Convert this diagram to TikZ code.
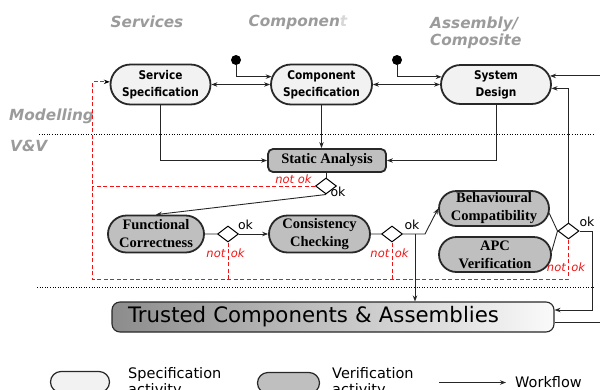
\documentclass[tikz,border=0pt]{standalone}
\usepackage{fontspec}
\setmainfont{DejaVu Sans}
\newfontfamily\specfont[FakeStretch=0.88]{DejaVu Sans}
\newfontfamily\verfont{Liberation Serif}
\usetikzlibrary{shapes.misc,shapes.geometric,arrows.meta,calc}
\definecolor{hdrgray}{RGB}{155,155,155}
\definecolor{hdrlight}{RGB}{215,215,215}
\definecolor{specfill}{RGB}{242,242,242}
\definecolor{verfill}{RGB}{191,191,191}
\definecolor{edge}{RGB}{40,40,40}
\definecolor{nokred}{RGB}{240,20,20}
\definecolor{trL}{RGB}{140,140,140}
\definecolor{trR}{RGB}{250,250,250}
\begin{document}
\begin{tikzpicture}[x=1pt,y=-1pt,
 specbox/.style={rounded rectangle, draw=edge, line width=1.8pt, fill=specfill, inner sep=0pt, align=center, font=\specfont\bfseries\fontsize{12}{17}\selectfont},
 verbox/.style={rounded rectangle, draw=edge, line width=1.8pt, fill=verfill, inner sep=0pt, align=center, font=\verfont\bfseries\fontsize{14.5}{18}\selectfont},
 decision/.style={diamond, draw=black, line width=1pt, fill=white, inner sep=0pt, minimum width=21pt, minimum height=16pt},
 tip/.tip={Stealth[length=6pt,width=4.5pt]},
 wf/.style={draw=black!85, line width=0.9pt, -tip},
 wfl/.style={draw=black!85, line width=0.9pt},
 wfb/.style={draw=black!85, line width=0.9pt, tip-tip},
 redline/.style={draw=nokred, line width=0.9pt, dash pattern=on 4pt off 2.5pt},
 hdr/.style={text=hdrgray, font=\bfseries\itshape\fontsize{15.3}{16.7}\selectfont, inner sep=0pt},
 okl/.style={font=\fontsize{12.5}{14}\selectfont, inner sep=0pt},
 notl/.style={text=nokred, font=\itshape\fontsize{11.5}{13}\selectfont, inner sep=0pt},
 legtext/.style={font=\fontsize{14.5}{16}\selectfont, inner sep=0pt, align=left},
 initdot/.style={circle, fill=black, inner sep=0pt, minimum size=10pt},
]
\useasboundingbox (0,0) rectangle (600,389);

% headers
\node[hdr] (h1) at (147,22) {Services};
\node[hdr] (h2) at (298,22) {Componen\textcolor{hdrlight}{t}};
\node[hdr, anchor=north west, align=left] (h3) at (430,16.6) {Assembly/\\Composite};
\node[hdr, anchor=west] (h4) at (9,116) {Modelling};
\node[hdr, anchor=west] (h5) at (10,146) {V\&V};

% dotted separators
\coordinate (dl1) at (39,134); \coordinate (dr1) at (595,134);
\coordinate (dl2) at (37,287); \coordinate (dr2) at (595,287);
\draw[dotted, line width=0.6pt] (dl1) -- (dr1);
\draw[dotted, line width=0.6pt] (dl2) -- (dr2);

% specification activities
\node[specbox, minimum width=100pt, minimum height=40pt] (svc) at (160.5,84.5) {Service\\Specification};
\node[specbox, minimum width=101pt, minimum height=40pt] (cmp) at (321.5,84.5) {Component\\Specification};
\node[specbox, minimum width=110pt, minimum height=39pt] (sys) at (496,84.5) {System\\Design};

\node[initdot] (i1) at (236,60) {};
\node[initdot] (i2) at (397,60) {};

% verification activities
\node[draw=edge, line width=1.8pt, fill=verfill, rounded corners=5pt, minimum width=118pt, minimum height=23pt, inner sep=0pt, font=\verfont\bfseries\fontsize{14.5}{17}\selectfont] (sa) at (327,160.5) {Static Analysis};
\node[decision] (d0) at (326,186) {};
\node[verbox, minimum width=96pt, minimum height=37pt] (fc) at (156,234) {Functional\\Correctness};
\node[decision] (d1) at (228,234) {};
\node[verbox, minimum width=101pt, minimum height=37pt] (cc) at (319.5,234) {Consistency\\Checking};
\node[decision] (d2) at (392,234) {};
\node[verbox, minimum width=110pt, minimum height=35pt] (bc) at (494,208.5) {Behavioural\\Compatibility};
\node[verbox, minimum width=112pt, minimum height=35pt] (apc) at (495,254.5) {APC\\Verification};
\node[decision] (d3) at (568.5,231) {};

% trusted
\node[draw=edge, line width=1.1pt, rounded corners=8pt, left color=trL, right color=trR, text width=410pt, align=left, inner xsep=16pt, inner ysep=0pt, minimum height=30pt, font=\fontsize{21.3}{24}\selectfont] (tr) at (333,317) {Trusted Components \& Assemblies};

% labels
\node[notl] (n0) at (293.5,179.5) {not ok};
\node[okl] (o0) at (338,192) {ok};
\node[notl] (n1) at (225.5,253.5) {not\hspace{5.5pt}ok};
\node[okl] (o1) at (245.5,225) {ok};
\node[notl] (n2) at (389.5,253) {not\hspace{5.5pt}ok};
\node[okl] (o2) at (412,225) {ok};
\node[notl] (n3) at (566,267) {not\hspace{5.5pt}ok};
\node[okl] (o3) at (587,222) {ok};

% workflow connectors
\draw[wf] (i1) |- (cmp.171);
\draw[wf] (i2) |- (sys.172);
\draw[wfb] (svc) -- (cmp);
\draw[wfb] (cmp) -- (sys);
\coordinate (farR) at (612,200);
\draw[wf] ([yshift=-5pt]tr.east) -| (farR) |- (sys.9);
\draw[wf] (svc) |- (sa);
\draw[wf] (cmp.south) -- (cmp.south |- sa.north);
\draw[wf] (sys) |- (sa);
\draw[wfl] (sa.south -| d0.north) -- (d0.north);
\draw[wf] (d0.south) -- (fc.north);
\draw[wfl] (fc) -- (d1);
\draw[wf] (d1) -- (cc);
\draw[wfl] (cc) -- (d2);
\coordinate (j1) at (415,234); \coordinate (j2) at (425,234);
\draw[wf] (d2.east) -- (j2) -- (bc.west);
\draw[wf] (j1) -- (j1 |- tr.north);
\draw[wfl] (bc.-5) -- (d3.west);
\draw[wfl] (apc.3) -- (d3.west);
\draw[wf] (d3.north) |- (sys.-4);
\draw[wf] (d3.east) -- ++(12.5,0) |- ([yshift=7pt]tr.east);

% not ok feedback
\coordinate (rL) at (92,279);
\draw[redline, -{Stealth[length=6pt,width=4.5pt,color=black]}] (d3.south) |- (rL) |- (svc.177);
\draw[redline] (d0.west) -- (d0.west -| rL);
\draw[redline] (d1.south) -- (d1.south |- rL);
\draw[redline] (d2.south) -- (d2.south |- rL);

% legend
\node[rounded rectangle, draw=edge, line width=1.2pt, fill=specfill, minimum width=59pt, minimum height=21pt, inner sep=0pt] (lg1) at (80,382) {};
\node[rounded rectangle, draw=edge, line width=1.2pt, fill=verfill, minimum width=62pt, minimum height=21pt, inner sep=0pt] (lg2) at (288.5,383) {};
\node[legtext, anchor=north west] (lt1) at (128,367) {Specification\\activity};
\node[legtext, anchor=north west] (lt2) at (332,367) {Verification\\activity};
\coordinate (la1) at (439,382.5);
\node[legtext, anchor=west] (lt3) at (515,382.5) {Workflow};
\draw[wf] (la1) -- ([xshift=-9pt]lt3.west);
\end{tikzpicture}
\end{document}
